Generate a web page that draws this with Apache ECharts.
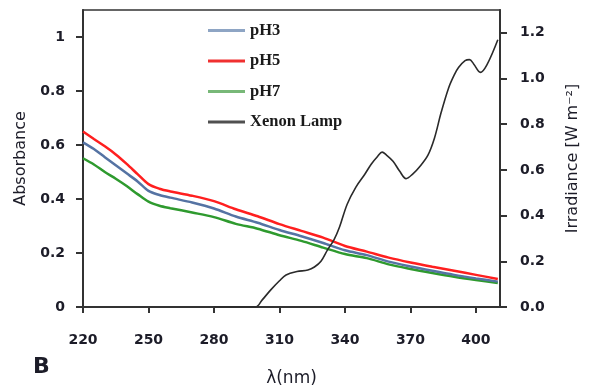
<!DOCTYPE html>
<html>
<head>
<meta charset="utf-8">
<script src="https://cdn.jsdelivr.net/npm/echarts@6/dist/echarts.min.js"></script>
<style>
  html, body { margin: 0; padding: 0; background: #ffffff; }
  #chart { width: 592px; height: 392px; }
</style>
</head>
<body>
<div id="chart"></div>
<script>
// Wavelengths (nm) at which the absorbance spectra are sampled
const absNm = [220, 225, 230, 235, 240, 245, 250, 255, 260, 270, 280, 290, 300, 310, 320, 330, 340, 350, 360, 370, 380, 390, 400, 410];
// Absorbance at each pH
const pH3 = [0.610, 0.585, 0.555, 0.525, 0.495, 0.465, 0.430, 0.415, 0.405, 0.387, 0.365, 0.335, 0.312, 0.285, 0.262, 0.237, 0.210, 0.192, 0.168, 0.150, 0.134, 0.119, 0.106, 0.094];
const pH5 = [0.650, 0.622, 0.595, 0.565, 0.530, 0.492, 0.455, 0.438, 0.428, 0.412, 0.392, 0.362, 0.336, 0.307, 0.282, 0.257, 0.226, 0.205, 0.183, 0.165, 0.149, 0.134, 0.119, 0.104];
const pH7 = [0.551, 0.528, 0.500, 0.475, 0.448, 0.418, 0.390, 0.375, 0.366, 0.350, 0.333, 0.308, 0.290, 0.266, 0.245, 0.220, 0.196, 0.181, 0.158, 0.141, 0.126, 0.112, 0.100, 0.089];

// Xenon lamp emission spectrum
const lampNm  = [280, 299, 302, 306, 310, 313, 318, 323, 326, 329, 332, 335, 337.5, 341, 345, 349, 352, 355, 357, 359, 362, 365, 368, 371, 374, 378, 381, 384, 387.5, 390, 392, 395, 397, 399, 402, 405, 410];
const lampIrr = [0, 0, 0.03, 0.075, 0.115, 0.14, 0.155, 0.162, 0.175, 0.2, 0.25, 0.295, 0.35, 0.45, 0.525, 0.58, 0.625, 0.66, 0.678, 0.665, 0.638, 0.595, 0.562, 0.582, 0.612, 0.665, 0.74, 0.85, 0.96, 1.015, 1.048, 1.078, 1.083, 1.063, 1.027, 1.06, 1.17];

// Tick labels
const nmTicks  = [220, 250, 280, 310, 340, 370, 400];
const absTicks = [0, 0.2, 0.4, 0.6, 0.8, 1];
const irrTicks = [0, 0.2, 0.4, 0.6, 0.8, 1.0, 1.2];

const pairs = (xs, ys) => xs.map((x, i) => [x, ys[i]]);

const axisColor = '#333333';
const labelStyle = {
  color: '#1c1c28',
  fontFamily: 'DejaVu Sans',
  fontWeight: 'bold',
  fontSize: 14
};
const nameStyle = {
  color: '#1c1c28',
  fontFamily: 'DejaVu Sans',
  fontSize: 16
};

const chart = echarts.init(document.getElementById('chart'), null, { renderer: 'canvas' });

chart.setOption({
  animation: false,
  backgroundColor: '#ffffff',
  grid: {
    left: 83, right: 92, top: 10, bottom: 85,
    show: true, borderColor: axisColor, borderWidth: 1.5, backgroundColor: 'transparent'
  },
  legend: {
    orient: 'vertical',
    left: 208, top: 22,
    padding: 0,
    icon: 'rect',
    itemWidth: 37, itemHeight: 3, itemGap: 13.5,
    selectedMode: false,
    textStyle: { fontFamily: 'Liberation Serif', fontWeight: 'bold', fontSize: 16.5, lineHeight: 16, color: '#1a1a1a' },
    data: [
      { name: 'pH3', itemStyle: { color: '#8ea5c4' } },
      { name: 'pH5', itemStyle: { color: '#f03030' } },
      { name: 'pH7', itemStyle: { color: '#78b878' } },
      { name: 'Xenon Lamp', itemStyle: { color: '#505050' } }
    ]
  },
  graphic: [{
    type: 'text', left: 33, top: 356,
    style: { text: 'B', fontFamily: 'DejaVu Sans', fontWeight: 'bold', fontSize: 22, fill: '#1c1c28' }
  }],
  xAxis: {
    type: 'value',
    min: 220, max: 411,
    name: 'λ(nm)', nameLocation: 'middle', nameGap: 63,
    nameTextStyle: Object.assign({}, nameStyle, { fontSize: 17 }),
    axisLine: { show: true, lineStyle: { color: axisColor, width: 2 } },
    axisTick: { show: true, inside: false, length: 6, customValues: nmTicks, lineStyle: { color: axisColor, width: 2 } },
    axisLabel: { customValues: nmTicks, margin: 26, ...labelStyle },
    splitLine: { show: false }
  },
  yAxis: [{
    type: 'value',
    position: 'left',
    min: 0, max: 1.1,
    name: 'Absorbance', nameLocation: 'middle', nameGap: 49, nameRotate: 90,
    nameTextStyle: nameStyle,
    axisLine: { show: true, lineStyle: { color: axisColor, width: 2 } },
    axisTick: { show: true, inside: false, length: 7, customValues: absTicks, lineStyle: { color: axisColor, width: 2 } },
    axisLabel: { customValues: absTicks, margin: 18, formatter: v => String(+v.toFixed(1)), ...labelStyle },
    splitLine: { show: false }
  }, {
    type: 'value',
    position: 'right',
    min: 0, max: 1.3,
    name: 'Irradiance [W m⁻²]', nameLocation: 'middle', nameGap: 65, nameRotate: 90,
    nameTextStyle: nameStyle,
    axisLine: { show: true, lineStyle: { color: axisColor, width: 2 } },
    axisTick: { show: true, inside: false, length: 7, customValues: irrTicks, lineStyle: { color: axisColor, width: 2 } },
    axisLabel: { customValues: irrTicks, margin: 20, formatter: v => v.toFixed(1), ...labelStyle },
    splitLine: { show: false }
  }],
  series: [
    {
      name: 'pH7', type: 'line', symbol: 'none', smooth: 0.3, yAxisIndex: 0,
      data: pairs(absNm, pH7),
      lineStyle: { color: '#2e9a2e', width: 2.5 }, itemStyle: { color: '#2e9a2e' }
    },
    {
      name: 'pH3', type: 'line', symbol: 'none', smooth: 0.3, yAxisIndex: 0,
      data: pairs(absNm, pH3),
      lineStyle: { color: '#5573a3', width: 2.5 }, itemStyle: { color: '#5573a3' }
    },
    {
      name: 'pH5', type: 'line', symbol: 'none', smooth: 0.3, yAxisIndex: 0,
      data: pairs(absNm, pH5),
      lineStyle: { color: '#ff1f1f', width: 2.5 }, itemStyle: { color: '#ff1f1f' }
    },
    {
      name: 'Xenon Lamp', type: 'line', symbol: 'none', smooth: 0.35, yAxisIndex: 1,
      data: pairs(lampNm, lampIrr),
      lineStyle: { color: '#2a2a2a', width: 1.6 }, itemStyle: { color: '#2a2a2a' }
    }
  ]
});
</script>
</body>
</html>
